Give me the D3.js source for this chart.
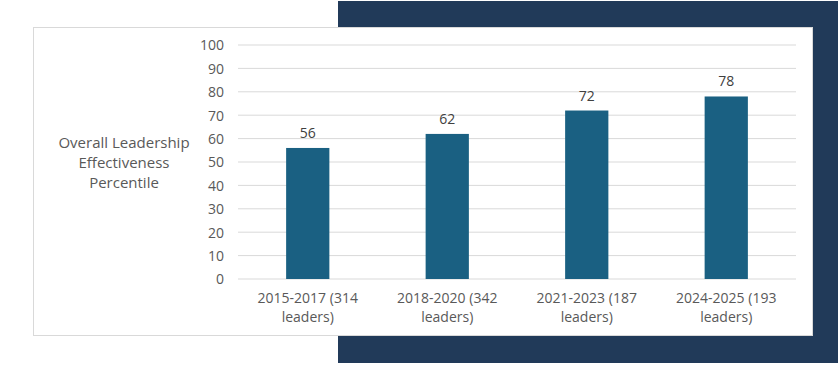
<!DOCTYPE html>
<html><head><meta charset="utf-8">
<script src="https://cdn.jsdelivr.net/npm/d3@7"></script>
<style>body{margin:0;background:#fff}svg{display:block}</style>
</head><body>
<script>
const categories = ["2015-2017 (314 leaders)", "2018-2020 (342 leaders)", "2021-2023 (187 leaders)", "2024-2025 (193 leaders)"];
const categoryLines = [["2015-2017 (314", "leaders)"], ["2018-2020 (342", "leaders)"], ["2021-2023 (187", "leaders)"], ["2024-2025 (193", "leaders)"]];
const values = [56, 62, 72, 78];
const yTicks = [0, 10, 20, 30, 40, 50, 60, 70, 80, 90, 100];
const yTitleLines = ["Overall Leadership", "Effectiveness", "Percentile"];

const W = 838, H = 367;
const svg = d3.select("body").append("svg").attr("width", W).attr("height", H);
svg.append("rect").attr("x", 338).attr("y", 1).attr("width", 500).attr("height", 362).attr("fill", "#213a59");
svg.append("rect").attr("x", 33.5).attr("y", 27.5).attr("width", 779).attr("height", 308)
  .attr("fill", "#fff").attr("stroke", "#d9d9d9").attr("stroke-width", 1);

const x = d3.scaleBand().domain(categories).range([238, 796]).paddingInner(0.69).paddingOuter(0.345);
const y = d3.scaleLinear().domain([0, 100]).range([279, 45]);
const font = "'Open Sans', 'Liberation Sans', Arial, sans-serif";

const g = svg.append("g");
g.selectAll("line.grid").data(yTicks).join("line")
  .attr("x1", 238).attr("x2", 796).attr("y1", d => y(d)).attr("y2", d => y(d))
  .attr("stroke", "#d9d9d9").attr("stroke-width", 1);

const yAxis = d3.axisLeft(y).tickValues(yTicks).tickSize(0).tickPadding(0);
const ya = g.append("g").attr("transform", "translate(224,0)").call(yAxis);
ya.select(".domain").remove();
ya.selectAll("text").attr("font-family", font).attr("font-size", 14).attr("fill", "#595959").attr("dy", "0.35em");

g.selectAll("rect.bar").data(values).join("rect")
  .attr("x", (d, i) => x(categories[i])).attr("width", x.bandwidth())
  .attr("y", d => y(d)).attr("height", d => y(0) - y(d)).attr("fill", "#1a6082");

g.selectAll("text.val").data(values).join("text")
  .attr("x", (d, i) => x(categories[i]) + x.bandwidth() / 2).attr("y", d => y(d) - 10)
  .attr("text-anchor", "middle").attr("font-family", font).attr("font-size", 14).attr("fill", "#404040")
  .text(d => d);

categoryLines.forEach((lines, i) => {
  const t = g.append("text").attr("text-anchor", "middle").attr("font-family", font).attr("font-size", 14).attr("fill", "#595959");
  lines.forEach((l, j) => t.append("tspan").attr("x", x(categories[i]) + x.bandwidth() / 2).attr("y", 303 + j * 19).text(l));
});

const tt = g.append("text").attr("text-anchor", "middle").attr("font-family", font).attr("font-size", 15).attr("fill", "#595959");
yTitleLines.forEach((l, j) => tt.append("tspan").attr("x", 124).attr("y", 148 + j * 20).text(l));
</script>
</body></html>
